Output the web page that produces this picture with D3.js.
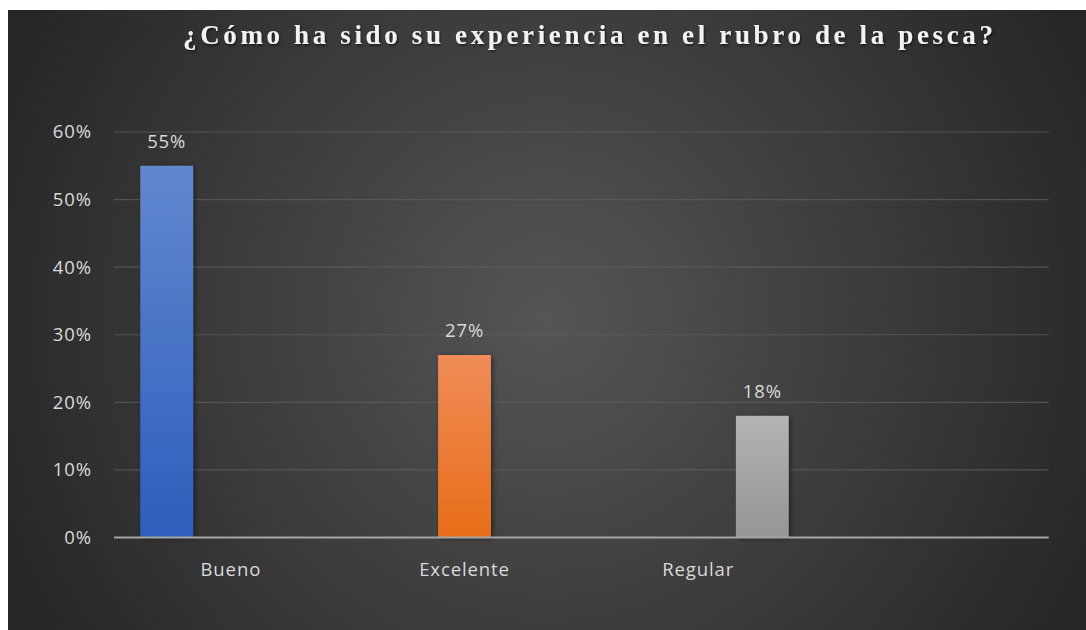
<!DOCTYPE html>
<html><head><meta charset="utf-8">
<script src="https://cdn.jsdelivr.net/npm/d3@7"></script>
<style>html,body{margin:0;padding:0;background:#fff;}svg{display:block;}</style>
</head><body>
<svg id="chart" width="1086" height="630"></svg>
<script>
const title = "¿Cómo ha sido su experiencia en el rubro de la pesca?";
const categories = ["Bueno", "Excelente", "Regular", ""];
const seriesNames = ["Serie 1", "Serie 2", "Serie 3"];
const values = [0.55, 0.27, 0.18];          // one value per category
const seriesOfValue = ["Serie 1", "Serie 2", "Serie 3"];
const yTicks = [0, 0.1, 0.2, 0.3, 0.4, 0.5, 0.6];

const svg = d3.select("#chart");
const W = 1086, H = 630;
const defs = svg.append("defs");
const FONT = "'Open Sans', sans-serif", FS = 18.5, LS = 0.9;

const bg = defs.append("radialGradient").attr("id","bg")
  .attr("gradientUnits","userSpaceOnUse").attr("cx",548).attr("cy",320).attr("r",600);
bg.append("stop").attr("offset","0").attr("stop-color","#555555");
bg.append("stop").attr("offset","1").attr("stop-color","#262626");

const grads = [["#6287cf","#2c5ebd"],["#f08c58","#e86d18"],["#b3b3b3","#959595"]];
grads.forEach((g,i)=>{
  const lg = defs.append("linearGradient").attr("id","g"+i).attr("x1",0).attr("y1",0).attr("x2",0).attr("y2",1);
  lg.append("stop").attr("offset","0").attr("stop-color",g[0]);
  lg.append("stop").attr("offset","1").attr("stop-color",g[1]);
});
const sh = defs.append("filter").attr("id","shadow").attr("x","-20%").attr("y","-10%").attr("width","150%").attr("height","130%");
sh.append("feDropShadow").attr("dx",2).attr("dy",1).attr("stdDeviation",2.5).attr("flood-color","#000").attr("flood-opacity",0.45);
const tsh = defs.append("filter").attr("id","tshadow");
tsh.append("feDropShadow").attr("dx",1).attr("dy",1.5).attr("stdDeviation",1).attr("flood-color","#000").attr("flood-opacity",0.6);

svg.append("rect").attr("x",8).attr("y",10).attr("width",W-8).attr("height",H-10).attr("fill","url(#bg)");

const mLeft = 114, mRight = 1048.7, mTop = 132, mBottom = 537.5;
const y = d3.scaleLinear().domain([0, 0.6]).range([mBottom, mTop]);
const x0 = d3.scaleBand().domain(categories).range([mLeft, mRight]).padding(0);
const x1 = d3.scaleBand().domain(seriesNames).range([0, x0.bandwidth()])
  .paddingInner(0.176).paddingOuter(0.41);

// gridlines
svg.append("g").selectAll("line").data(yTicks.filter(d=>d>0)).join("line")
  .attr("x1",mLeft).attr("x2",mRight).attr("y1",d=>y(d)).attr("y2",d=>y(d))
  .attr("stroke","#5e5e5e").attr("stroke-width",1.2).attr("opacity",0.75);

// y axis labels
const yAxis = d3.axisLeft(y).tickValues(yTicks).tickFormat(d3.format(".0%")).tickSize(0).tickPadding(0);
const ya = svg.append("g").attr("transform",`translate(${mLeft-22},0)`).call(yAxis);
ya.select(".domain").remove();
ya.selectAll("text").attr("fill","#d9d9d9").attr("font-family",FONT).attr("font-size",FS)
  .attr("letter-spacing",LS);

// bars
const bars = categories.slice(0,3).map((c,i)=>({cat:c, s:seriesOfValue[i], v:values[i], i}));
svg.append("g").selectAll("rect").data(bars).join("rect")
  .attr("x",d=>x0(d.cat)+x1(d.s)).attr("width",x1.bandwidth())
  .attr("y",d=>y(d.v)).attr("height",d=>y(0)-y(d.v))
  .attr("fill",d=>`url(#g${d.i})`).attr("filter","url(#shadow)");

// data labels
svg.append("g").selectAll("text").data(bars).join("text")
  .attr("x",d=>x0(d.cat)+x1(d.s)+x1.bandwidth()/2).attr("y",d=>y(d.v)-18)
  .attr("text-anchor","middle").attr("fill","#d9d9d9")
  .attr("font-family",FONT).attr("font-size",FS).attr("letter-spacing",LS)
  .text(d=>d3.format(".0%")(d.v));

// x axis line
svg.append("line").attr("x1",mLeft).attr("x2",mRight).attr("y1",y(0)).attr("y2",y(0))
  .attr("stroke","#a6a6a6").attr("stroke-width",2);

// category labels
const xAxis = d3.axisBottom(x0).tickSize(0).tickPadding(0);
const xa = svg.append("g").attr("transform",`translate(0,${y(0)})`).call(xAxis);
xa.select(".domain").remove();
xa.selectAll("text").attr("fill","#d9d9d9").attr("font-family",FONT)
  .attr("font-size",FS).attr("letter-spacing",LS).attr("dy",null).attr("y",38.5);

// title
svg.append("text").attr("x",183).attr("y",44)
  .attr("font-family","'Liberation Serif', 'Times New Roman', serif").attr("font-weight","bold")
  .attr("font-size",27).attr("fill","#f2f2f2").attr("filter","url(#tshadow)")
  .attr("textLength",810).attr("lengthAdjust","spacing")
  .text(title);
</script>
</body></html>
